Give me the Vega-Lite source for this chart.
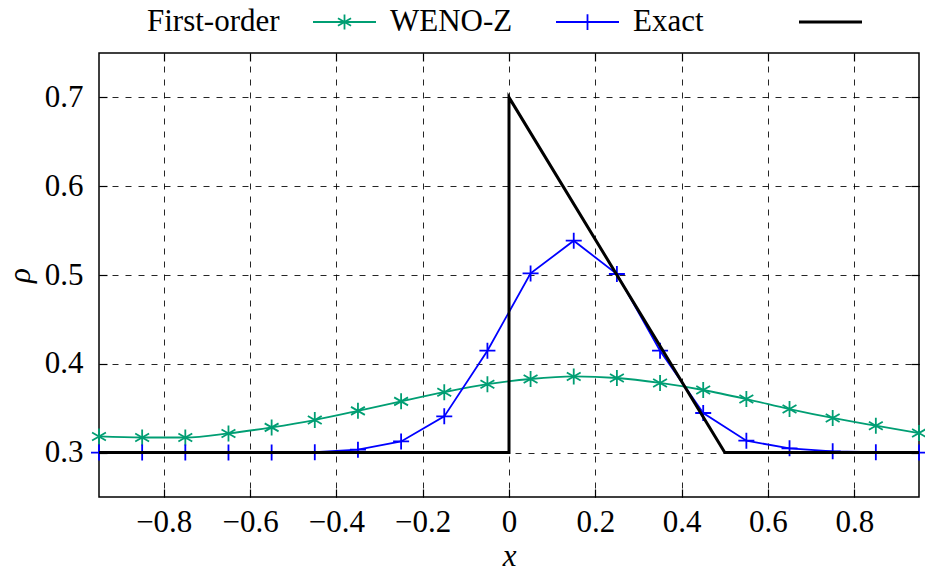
{
  "$schema": "https://vega.github.io/schema/vega-lite/v6.json",
  "width": 820,
  "height": 444,
  "autosize": {"type": "none"},
  "padding": {"left": 99, "top": 53, "right": 6, "bottom": 75},
  "background": "white",
  "config": {
    "view": {"stroke": "black", "strokeWidth": 1.5},
    "font": "Liberation Serif",
    "axis": {
      "labelFont": "Liberation Serif",
      "labelFontSize": 31,
      "labelColor": "black",
      "titleFont": "Liberation Serif",
      "titleFontSize": 31,
      "titleFontStyle": "italic",
      "titleFontWeight": "normal",
      "titleColor": "black",
      "tickColor": "black",
      "tickWidth": 1.2,
      "gridColor": "black",
      "gridDash": [6, 7],
      "gridWidth": 1,
      "gridOpacity": 0.85,
      "domain": false
    }
  },
  "datasets": {
    "pts": [
      {"series": "First-order", "x": -0.95, "y": 0.3182},
      {"series": "First-order", "x": -0.85, "y": 0.317},
      {"series": "First-order", "x": -0.75, "y": 0.317},
      {"series": "First-order", "x": -0.65, "y": 0.3216},
      {"series": "First-order", "x": -0.55, "y": 0.3284},
      {"series": "First-order", "x": -0.45, "y": 0.3367},
      {"series": "First-order", "x": -0.35, "y": 0.347},
      {"series": "First-order", "x": -0.25, "y": 0.3577},
      {"series": "First-order", "x": -0.15, "y": 0.368},
      {"series": "First-order", "x": -0.05, "y": 0.377},
      {"series": "First-order", "x": 0.05, "y": 0.3829},
      {"series": "First-order", "x": 0.15, "y": 0.3858},
      {"series": "First-order", "x": 0.25, "y": 0.384},
      {"series": "First-order", "x": 0.35, "y": 0.3784},
      {"series": "First-order", "x": 0.45, "y": 0.3705},
      {"series": "First-order", "x": 0.55, "y": 0.3603},
      {"series": "First-order", "x": 0.65, "y": 0.349},
      {"series": "First-order", "x": 0.75, "y": 0.339},
      {"series": "First-order", "x": 0.85, "y": 0.3303},
      {"series": "First-order", "x": 0.95, "y": 0.322},
      {"series": "WENO-Z", "x": -0.95, "y": 0.3},
      {"series": "WENO-Z", "x": -0.85, "y": 0.3},
      {"series": "WENO-Z", "x": -0.75, "y": 0.3},
      {"series": "WENO-Z", "x": -0.65, "y": 0.3},
      {"series": "WENO-Z", "x": -0.55, "y": 0.3001},
      {"series": "WENO-Z", "x": -0.45, "y": 0.3005},
      {"series": "WENO-Z", "x": -0.35, "y": 0.3033},
      {"series": "WENO-Z", "x": -0.25, "y": 0.3126},
      {"series": "WENO-Z", "x": -0.15, "y": 0.3408},
      {"series": "WENO-Z", "x": -0.05, "y": 0.4148},
      {"series": "WENO-Z", "x": 0.05, "y": 0.5018},
      {"series": "WENO-Z", "x": 0.15, "y": 0.5386},
      {"series": "WENO-Z", "x": 0.25, "y": 0.5011},
      {"series": "WENO-Z", "x": 0.35, "y": 0.4148},
      {"series": "WENO-Z", "x": 0.45, "y": 0.3446},
      {"series": "WENO-Z", "x": 0.55, "y": 0.3134},
      {"series": "WENO-Z", "x": 0.65, "y": 0.3048},
      {"series": "WENO-Z", "x": 0.75, "y": 0.3014},
      {"series": "WENO-Z", "x": 0.85, "y": 0.3004},
      {"series": "WENO-Z", "x": 0.95, "y": 0.3}
    ],
    "exact": [
      {"series": "Exact", "i": 0, "x": -0.95, "y": 0.3},
      {"series": "Exact", "i": 1, "x": 0, "y": 0.3},
      {"series": "Exact", "i": 2, "x": 0, "y": 0.7},
      {"series": "Exact", "i": 3, "x": 0.5, "y": 0.3},
      {"series": "Exact", "i": 4, "x": 0.95, "y": 0.3}
    ]
  },
  "resolve": {"axis": {"x": "independent", "y": "independent"}},
  "layer": [
    {
      "data": {"name": "pts"},
      "transform": [{"filter": "datum.series === 'First-order'"}],
      "mark": {"type": "line", "interpolate": "monotone", "strokeWidth": 1.8},
      "encoding": {
        "x": {"field": "x", "type": "quantitative", "scale": {"domain": [-0.95, 0.95], "nice": false, "zero": false},
              "axis": {"orient": "top", "labels": false, "grid": false, "tickSize": -8, "title": null, "values": [-0.8,-0.6,-0.4,-0.2,0,0.2,0.4,0.6,0.8]}},
        "y": {"field": "y", "type": "quantitative", "scale": {"domain": [0.25, 0.75], "nice": false, "zero": false},
              "axis": {"orient": "right", "labels": false, "grid": false, "tickSize": -8, "title": null, "values": [0.3,0.4,0.5,0.6,0.7]}},
        "color": {"field": "series", "type": "nominal",
                  "scale": {"domain": ["First-order", "WENO-Z", "Exact"], "range": ["#009E73", "#0000FF", "#000000"]},
                  "legend": {
                    "orient": "none", "legendX": 48, "legendY": -63, "direction": "horizontal",
                    "title": null, "padding": 0, "columnPadding": 10,
                    "symbolSize": 3969,
                    "labelFont": "Liberation Serif", "labelFontSize": 31, "labelColor": "black", "labelLimit": 300,
                    "symbolStrokeWidth": 1.8,
                    "encode": {
                      "symbols": {"update": {
                        "x": {"value": 197.5},
                        "y": {"value": 32},
                        "size": {"value": 3969},
                        "shape": {"signal": "datum.value === 'First-order' ? 'M-1,0H1M0,-0.24V0.24M-0.208,-0.12L0.208,0.12M-0.208,0.12L0.208,-0.12' : datum.value === 'WENO-Z' ? 'M-1,0H1M0,-0.25V0.25' : 'M-1,0H1'"},
                        "strokeWidth": {"signal": "datum.value === 'Exact' ? 3 : 1.8"},
                        "fill": {"value": "transparent"}
                      }},
                      "labels": {"update": {
                        "x": {"value": 0},
                        "y": {"value": 32},
                        "align": {"value": "left"},
                        "baseline": {"value": "middle"}
                      }}
                    }
                  }}
      }
    },
    {
      "data": {"name": "pts"},
      "transform": [{"filter": "datum.series === 'WENO-Z'"}],
      "mark": {"type": "line", "strokeWidth": 1.8},
      "encoding": {
        "x": {"field": "x", "type": "quantitative", "axis": null},
        "y": {"field": "y", "type": "quantitative", "axis": null},
        "color": {"field": "series", "type": "nominal"}
      }
    },
    {
      "data": {"name": "pts"},
      "mark": {"type": "point", "filled": false, "strokeWidth": 1.8, "size": 256, "opacity": 1},
      "encoding": {
        "x": {"field": "x", "type": "quantitative", "axis": null},
        "y": {"field": "y", "type": "quantitative", "axis": null},
        "color": {"field": "series", "type": "nominal"},
        "shape": {"field": "series", "type": "nominal", "legend": null,
                  "scale": {"domain": ["First-order", "WENO-Z"], "range": ["M0,-1V1M-0.866,-0.5L0.866,0.5M-0.866,0.5L0.866,-0.5", "M-1,0H1M0,-1V1"]}}
      }
    },
    {
      "data": {"name": "exact"},
      "mark": {"type": "line", "strokeWidth": 3},
      "encoding": {
        "x": {"field": "x", "type": "quantitative",
              "axis": {"orient": "bottom", "values": [-0.8,-0.6,-0.4,-0.2,0,0.2,0.4,0.6,0.8], "format": "~g", "grid": true, "tickSize": -8, "labelPadding": 18, "title": "x", "titlePadding": 4}},
        "y": {"field": "y", "type": "quantitative",
              "axis": {"orient": "left", "values": [0.3,0.4,0.5,0.6,0.7], "format": ".1f", "grid": true, "tickSize": -8, "labelPadding": 24, "title": "ρ", "titlePadding": 8}},
        "order": {"field": "i", "type": "quantitative"},
        "color": {"field": "series", "type": "nominal"}
      }
    }
  ]
}
